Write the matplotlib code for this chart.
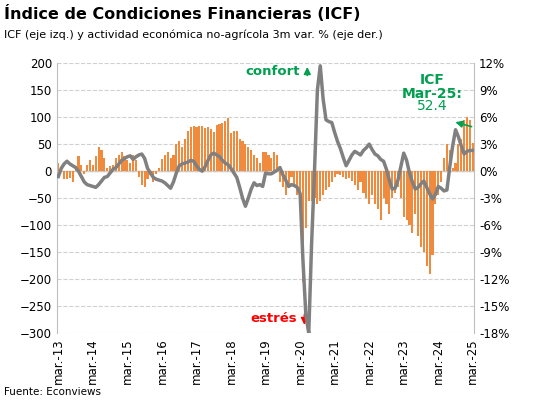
import matplotlib
matplotlib.use("Agg")
import matplotlib.pyplot as plt
import numpy as np

icf = [15,8,-15,-15,-12,-20,10,28,12,-5,12,20,
       12,28,45,40,25,5,10,12,25,30,35,28,
       20,15,30,20,-10,-25,-30,-15,-8,-20,-5,5,
       22,30,35,25,30,50,55,45,60,75,82,84,
       82,83,83,80,82,78,72,85,88,90,92,98,
       70,75,75,60,55,50,45,40,30,25,15,35,
       35,30,25,35,30,-20,-30,-45,-25,-10,-30,-45,
       -60,-205,-105,-55,-55,-50,-60,-55,-45,-35,-30,-20,
       -10,-5,-8,-10,-15,-12,-18,-25,-35,-20,-40,-50,
       -60,-45,-60,-70,-90,-50,-60,-80,-50,-40,-30,-50,
       -85,-90,-100,-115,-80,-120,-140,-150,-175,-190,-155,-60,
       -45,-20,25,50,40,5,15,50,60,95,100,95,52.4]
act = [-0.6,0.3,0.8,1.1,0.8,0.6,0.4,0.0,-0.6,-1.2,-1.5,-1.6,
       -1.7,-1.8,-1.5,-1.1,-0.7,-0.6,-0.2,0.2,0.4,0.8,1.2,1.4,
       1.6,1.7,1.3,1.6,1.8,1.9,1.4,0.3,-0.2,-0.7,-0.9,-1.0,
       -1.1,-1.3,-1.6,-1.9,-1.2,-0.2,0.6,0.8,0.9,1.0,1.2,1.1,
       0.6,0.2,0.0,0.5,1.2,1.8,2.0,1.8,1.6,1.2,0.9,0.7,
       0.3,-0.2,-0.7,-1.8,-3.0,-3.9,-3.0,-2.0,-1.3,-1.6,-1.5,-1.7,
       -0.2,-0.3,-0.3,-0.1,0.1,0.4,-0.4,-1.0,-1.7,-1.5,-1.6,-1.8,
       -2.5,-10.0,-16.0,-18.0,-8.0,0.0,9.0,11.7,8.0,5.7,5.5,5.4,
       4.3,3.3,2.5,1.5,0.6,1.2,1.8,2.2,2.0,1.8,2.3,2.6,
       3.0,2.4,1.9,1.7,1.3,1.1,0.2,-1.0,-2.0,-1.9,-1.0,0.5,
       2.0,1.2,-0.2,-1.2,-2.0,-1.8,-1.4,-1.1,-1.8,-2.5,-3.1,-2.6,
       -1.7,-1.9,-2.2,-2.1,0.5,2.8,4.6,3.8,2.8,1.9,2.2,2.3,2.3]
tick_labels = ["mar.-%02d" % y for y in range(13, 26)]

x = np.arange(len(icf))
fig = plt.figure(figsize=(5.47, 4.18), dpi=100)
ax = fig.add_axes([0.104, 0.203, 0.763, 0.646])
ax.bar(x, icf, width=0.75, color="#F08A3C", zorder=2)
ax.set_ylim(-300, 200)
ax.set_yticks(range(-300, 201, 50))
ax.set_xlim(-0.5, 144.5)
ax.set_xticks(range(0, 145, 12))
ax.set_xticklabels(tick_labels, rotation=90)
ax.grid(axis="y", color="#D0D0D0", ls="--", lw=0.8)
ax.axhline(0, color="#BFBFBF", lw=1, zorder=1)
for s in ["top", "right"]:
    ax.spines[s].set_visible(False)
ax.spines["left"].set_color("#BFBFBF")
ax.spines["bottom"].set_visible(False)
ax.tick_params(length=0, labelsize=8.5)
ax2 = ax.twinx()
ax2.plot(x, act, color="#808080", lw=2.5, zorder=3)
ax2.set_ylim(-18, 12)
ax2.set_yticks(range(-18, 13, 3))
ax2.set_yticklabels(["%d%%" % v for v in range(-18, 13, 3)])
ax2.tick_params(length=0, labelsize=8.5)
for s in ["top", "left", "bottom"]:
    ax2.spines[s].set_visible(False)
ax2.spines["right"].set_color("#BFBFBF")

fig.text(0.008, 0.955, "Índice de Condiciones Financieras (ICF)", fontsize=11.5, fontweight="bold")
fig.text(0.008, 0.91, "ICF (eje izq.) y actividad económica no-agrícola 3m var. % (eje der.)", fontsize=8)
fig.text(0.008, 0.055, "Fuente: Econviews", fontsize=7.5)
g = "#00A050"
ax.text(84, 184, "confort", color=g, fontsize=9.5, fontweight="bold", ha="right", va="center")
ax.annotate("", xy=(86.5, 198), xytext=(86.5, 172), arrowprops=dict(arrowstyle="-|>", color=g, lw=1.2))
ax.text(83, -273, "estrés", color="red", fontsize=9.5, fontweight="bold", ha="right", va="center")
ax.annotate("", xy=(85.5, -290), xytext=(85.5, -260), arrowprops=dict(arrowstyle="-|>", color="red", lw=1.2))
ax.text(130, 182, "ICF\nMar-25:", color=g, fontsize=10, fontweight="bold", ha="center", va="top", linespacing=1.05)
ax.text(130, 134, "52.4", color=g, fontsize=10, ha="center", va="top")
ax.annotate("", xy=(137, 92), xytext=(144.5, 81), arrowprops=dict(arrowstyle="-|>", color=g, lw=1.2))
fig.savefig("out.png", dpi=100)
